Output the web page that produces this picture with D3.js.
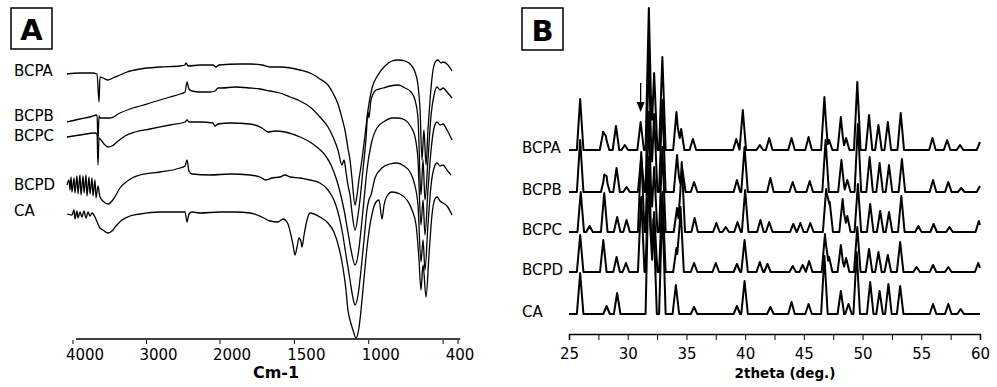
<!DOCTYPE html>
<html>
<head>
<meta charset="utf-8">
<script src="https://cdn.jsdelivr.net/npm/d3@7"></script>
<style>
  body { margin: 0; background: #fff; }
  svg { display: block; font-family: "DejaVu Sans", sans-serif; }
</style>
</head>
<body>
<svg id="chart" width="997" height="387"></svg>
<script>
// ---- panel A : FTIR spectra, [wavenumber cm-1, transmittance a.u. incl. stack offset]
const irNames = ["BCPA", "BCPB", "BCPC", "BCPD", "CA"]

const irBCPA = [[4082,265],[3905,266],[3741,266],[3673,265],[3646,237],[3633,262],[3592,261],[3524,259],[3456,261],[3361,264],[3265,267],[3088,270],[2816,272],[2544,273],[2476,274],[2463,276],[2435,273],[2272,274],[2095,274],[2054,272],[2014,274],[1866,275],[1798,275],[1718,274],[1664,272],[1597,272],[1462,269],[1381,265],[1328,260],[1274,254],[1234,244],[1207,235],[1180,221],[1160,209],[1140,191],[1126,179],[1113,161],[1092,134],[1079,144],[1066,159],[1046,179],[1025,204],[1005,229],[978,251],[938,264],[891,273],[844,278],[803,279],[756,278],[716,274],[689,267],[669,254],[655,229],[642,179],[629,209],[615,174],[602,209],[588,239],[568,269],[548,278],[534,279],[514,276],[501,277],[474,275],[440,268]]

const irBCPB = [[4082,217],[3905,220],[3769,222],[3673,224],[3660,199],[3646,223],[3633,221],[3497,221],[3361,226],[3225,230],[3088,233],[2952,236],[2816,239],[2680,242],[2544,245],[2476,247],[2449,257],[2422,250],[2381,248],[2272,247],[2136,247],[2068,248],[2027,251],[1987,251],[1899,252],[1798,251],[1731,250],[1664,248],[1597,246],[1529,242],[1462,238],[1395,232],[1328,222],[1274,212],[1240,202],[1207,189],[1180,174],[1166,179],[1153,167],[1140,154],[1126,144],[1113,127],[1092,109],[1072,124],[1059,139],[1039,169],[1019,199],[1005,227],[999,221],[985,239],[951,249],[904,251],[857,253],[803,254],[756,251],[716,247],[689,239],[669,221],[649,144],[635,179],[622,139],[602,179],[581,224],[561,244],[541,252],[521,249],[501,251],[474,247],[440,241]]

const irBCPC = [[4082,202],[3905,204],[3701,206],[3673,205],[3660,174],[3646,201],[3619,199],[3578,195],[3524,192],[3469,193],[3401,197],[3293,203],[3156,207],[2952,210],[2680,214],[2476,217],[2449,219],[2422,217],[2272,217],[2095,216],[2068,213],[2027,215],[1933,216],[1798,215],[1718,211],[1677,207],[1630,208],[1563,207],[1462,202],[1395,197],[1341,191],[1294,184],[1254,174],[1220,161],[1193,147],[1166,129],[1140,107],[1119,89],[1092,74],[1072,84],[1052,109],[1032,139],[1012,169],[985,194],[945,211],[891,218],[844,221],[803,221],[756,219],[716,212],[689,202],[669,179],[649,114],[635,139],[622,104],[602,149],[581,189],[561,211],[541,217],[521,214],[501,215],[474,209],[440,199]]

const irBCPD = [[4082,154],[4054,159],[4041,149],[4027,162],[4014,147],[3986,161],[3973,146],[3946,163],[3932,145],[3905,164],[3891,144],[3864,163],[3850,146],[3823,164],[3810,143],[3782,162],[3769,145],[3741,161],[3728,143],[3701,159],[3687,141],[3660,153],[3633,142],[3578,137],[3524,135],[3469,138],[3415,144],[3361,151],[3293,156],[3197,161],[3088,164],[2816,167],[2544,171],[2476,173],[2449,179],[2422,168],[2381,165],[2136,164],[1933,165],[1798,164],[1731,162],[1691,159],[1650,161],[1597,162],[1563,164],[1529,162],[1462,161],[1395,159],[1328,156],[1274,149],[1234,139],[1207,127],[1180,109],[1153,84],[1126,59],[1106,41],[1092,34],[1072,44],[1052,69],[1032,99],[1012,129],[999,139],[985,144],[958,161],[911,171],[857,175],[810,176],[763,173],[723,167],[696,157],[669,134],[649,77],[635,99],[622,69],[602,114],[581,154],[561,171],[541,176],[521,173],[501,174],[474,169],[447,164]]

const irCA = [[4082,125],[4014,124],[3986,129],[3973,120],[3946,128],[3932,121],[3905,127],[3878,122],[3850,128],[3823,121],[3796,127],[3769,123],[3741,126],[3701,122],[3660,115],[3633,111],[3592,109],[3524,106],[3469,108],[3415,113],[3333,119],[3225,123],[3088,125],[2816,127],[2544,127],[2476,127],[2449,117],[2422,125],[2381,127],[2272,126],[2000,127],[1899,127],[1798,126],[1718,122],[1664,118],[1610,117],[1576,120],[1543,115],[1523,104],[1509,94],[1496,84],[1482,92],[1469,101],[1455,97],[1449,92],[1435,104],[1415,119],[1395,126],[1328,122],[1274,116],[1234,107],[1200,91],[1173,71],[1153,49],[1140,29],[1126,19],[1106,9],[1086,1],[1066,11],[1052,29],[1039,49],[1019,81],[999,107],[978,125],[951,137],[931,139],[911,120],[897,134],[877,143],[844,147],[790,145],[743,139],[709,129],[682,114],[662,79],[649,49],[635,74],[615,42],[595,84],[575,124],[555,140],[541,142],[521,138],[501,136],[474,133],[440,124]]

const irSeries = [irBCPA, irBCPB, irBCPC, irBCPD, irCA]
const irTicks = [4000, 3000, 2000, 1500, 1000, 500, 400]
const irTickLabels = [4000, 3000, 2000, 1500, 1000, 400]

// ---- panel B : XRD patterns, peaks as [2theta, height a.u.]
const xrdNames = ["BCPA", "BCPB", "BCPC", "BCPD", "CA"]
const xrdOffsets = [184, 142, 102, 62, 20]

const xrdBCPA = [[25.95,51],[27.9,17],[28.15,12],[29.0,24],[29.75,5],[31.1,28],[31.8,142],[32.25,77],[32.95,93],[34.15,38],[34.55,21],[35.55,11],[39.25,11],[39.8,40],[41.25,5],[42.05,12],[43.95,12],[45.4,13],[46.75,53],[47.15,10],[48.15,33],[48.6,12],[49.55,68],[50.55,35],[51.35,25],[52.15,28],[53.25,37],[55.95,12],[57.2,10],[58.3,5],[60.0,8]]
const xrdBCPB = [[25.95,52],[28.0,14],[28.2,12],[29.05,24],[29.9,5],[31.15,35],[31.8,140],[32.25,78],[32.95,92],[34.2,37],[34.65,23],[35.65,10],[39.3,12],[39.95,45],[42.15,14],[44.05,10],[45.5,11],[46.85,52],[48.2,32],[48.7,12],[49.6,68],[50.6,35],[51.45,29],[52.25,27],[53.35,33],[56.0,12],[57.3,10],[58.4,4],[60.0,6]]
const xrdBCPC = [[26.0,40],[26.75,6],[28.0,39],[29.1,15],[29.9,12],[31.15,80],[31.8,120],[32.25,65],[32.95,85],[34.2,24],[34.6,70],[35.7,14],[37.55,9],[38.35,5],[39.35,10],[40.0,42],[41.3,12],[42.05,10],[44.1,8],[44.7,9],[45.55,9],[46.9,43],[47.2,30],[48.3,33],[48.7,16],[49.6,48],[50.65,28],[51.5,21],[52.25,20],[53.3,36],[54.75,6],[56.05,8],[57.4,5],[59.9,11]]
const xrdBCPD = [[25.95,37],[27.92,32],[29.05,15],[29.85,9],[31.15,75],[31.8,115],[32.25,60],[32.95,80],[34.15,24],[34.5,65],[35.65,9],[37.5,9],[39.3,8],[39.95,32],[41.25,10],[41.9,8],[44.05,6],[44.9,7],[45.45,11],[46.8,38],[47.15,15],[48.15,27],[48.6,14],[49.55,45],[50.55,23],[51.35,20],[52.15,17],[53.2,30],[54.6,5],[56.0,7],[57.3,5],[59.85,9]]
const xrdCA = [[25.95,41],[28.2,8],[29.1,21],[31.8,150],[32.2,95],[32.95,110],[34.1,29],[35.65,7],[39.3,8],[39.95,33],[42.15,7],[43.95,12],[45.4,10],[46.75,58],[48.15,23],[48.8,10],[49.5,62],[50.65,32],[51.45,23],[52.2,30],[53.2,28],[56.0,10],[57.3,10],[58.35,5]]

const xrdSeries = [xrdBCPA, xrdBCPB, xrdBCPC, xrdBCPD, xrdCA]
const xrdTicks = [25, 27.5, 30, 32.5, 35, 37.5, 40, 42.5, 45, 47.5, 50, 52.5, 55, 57.5, 60]
const xrdTickLabels = [25, 30, 35, 40, 45, 50, 55, 60]
const arrowMark = {theta: 31.1, from: 251, to: 222}

const svg = d3.select("#chart")

// ================= panel A =================
// the wavenumber axis changes scale at 2000 cm-1
const irX = d3.scaleLinear().domain([4000, 2000, 400]).range([73, 220, 458])
const irY = d3.scaleLinear().domain([0, 330]).range([339, 9])

const gA = svg.append("g")

gA.append("rect").attr("x", 11).attr("y", 8).attr("width", 41).attr("height", 41)
  .attr("fill", "none").attr("stroke", "#000").attr("stroke-width", 1.5)
gA.append("text").attr("x", 31.5).attr("y", 40).attr("text-anchor", "middle")
  .attr("font-size", 29).attr("font-weight", "bold").text("A")

const irLine = d3.line()
  .x(d => irX(d[0]))
  .y(d => irY(d[1]))
  .curve(d3.curveMonotoneX)

gA.selectAll("path.ir")
  .data(irSeries)
  .enter()
  .append("path")
  .attr("class", "ir")
  .attr("d", irLine)
  .attr("fill", "none")
  .attr("stroke", "#000")
  .attr("stroke-width", 1.3)

// labels sit just below where each trace starts
const irLabelDy = [2, -1, 4, 5, 2]
gA.selectAll("text.irname")
  .data(irNames)
  .enter()
  .append("text")
  .attr("class", "irname")
  .attr("x", 14)
  .attr("y", (d, i) => irY(irSeries[i][0][1]) + irLabelDy[i])
  .attr("font-size", 15)
  .text(d => d)

// axis
const axA = gA.append("g").attr("transform", "translate(0,339)")
axA.append("line").attr("x1", irX(4000) + 3).attr("x2", irX(385))
  .attr("stroke", "#000").attr("stroke-width", 1.5)
axA.selectAll("line.tick").data(irTicks).enter().append("line")
  .attr("class", "tick")
  .attr("x1", d => irX(d)).attr("x2", d => irX(d))
  .attr("y1", 1).attr("y2", 5)
  .attr("stroke", "#000").attr("stroke-width", 1)
axA.selectAll("text").data(irTickLabels).enter().append("text")
  .attr("x", d => irX(d) + (d > 400 ? 12 : 2))
  .attr("y", 21)
  .attr("text-anchor", "middle")
  .attr("font-size", 15)
  .text(d => d)
gA.append("text").attr("x", 276).attr("y", 378).attr("text-anchor", "middle")
  .attr("font-size", 16).attr("font-weight", "bold").text("Cm-1")

// ================= panel B =================
const xrdX = d3.scaleLinear().domain([25, 60]).range([569, 980])
const xrdY = d3.scaleLinear().domain([0, 330]).range([334, 4])

const gB = svg.append("g")

gB.append("rect").attr("x", 522).attr("y", 8).attr("width", 41).attr("height", 42)
  .attr("fill", "none").attr("stroke", "#000").attr("stroke-width", 1.5)
gB.append("text").attr("x", 542.5).attr("y", 41).attr("text-anchor", "middle")
  .attr("font-size", 29).attr("font-weight", "bold").text("B")

// each peak drawn as a narrow triangle, overlapping peaks add up
const halfBase = 0.28
const xrdTrace = (peaks, offset) => {
  let xs = [25, 60]
  peaks.forEach(([p]) => xs.push(p - halfBase, p, p + halfBase))
  xs = Array.from(new Set(xs.filter(x => x >= 25 && x <= 60))).sort((a, b) => a - b)
  return xs.map(x => [x, offset + d3.sum(peaks, ([p, h]) => Math.max(0, 1 - Math.abs(x - p) / halfBase) * h)])
}

const xrdLine = d3.line()
  .x(d => xrdX(d[0]))
  .y(d => xrdY(d[1]))

gB.selectAll("path.xrd")
  .data(xrdSeries.map((s, i) => xrdTrace(s, xrdOffsets[i])))
  .enter()
  .append("path")
  .attr("class", "xrd")
  .attr("d", xrdLine)
  .attr("fill", "none")
  .attr("stroke", "#000")
  .attr("stroke-width", 2)
  .attr("stroke-linejoin", "round")

gB.selectAll("text.xrdname")
  .data(xrdNames)
  .enter()
  .append("text")
  .attr("class", "xrdname")
  .attr("x", 522)
  .attr("y", (d, i) => xrdY(xrdOffsets[i]) + 3)
  .attr("font-size", 15)
  .text(d => d)

// arrow over the 31 deg reflection
const ax = xrdX(arrowMark.theta)
gB.append("line").attr("x1", ax).attr("x2", ax)
  .attr("y1", xrdY(arrowMark.from)).attr("y2", xrdY(arrowMark.to) - 8)
  .attr("stroke", "#000").attr("stroke-width", 1.3)
gB.append("path")
  .attr("d", `M${ax - 4},${xrdY(arrowMark.to) - 10}L${ax + 4},${xrdY(arrowMark.to) - 10}L${ax},${xrdY(arrowMark.to)}Z`)
  .attr("fill", "#000")

const axB = gB.append("g")
  .attr("transform", "translate(0,334)")
  .call(d3.axisBottom(xrdX)
    .tickValues(xrdTicks)
    .tickSize(6)
    .tickPadding(8)
    .tickFormat(d => xrdTickLabels.includes(d) ? d : ""))
axB.select(".domain").attr("stroke-width", 1.5)
axB.selectAll("text").attr("font-size", 15).attr("font-family", "DejaVu Sans").attr("fill", "#000")

gB.append("text").attr("x", 785).attr("y", 378).attr("text-anchor", "middle")
  .attr("font-size", 13.5).attr("font-weight", "bold").text("2theta (deg.)")
</script>
</body>
</html>
